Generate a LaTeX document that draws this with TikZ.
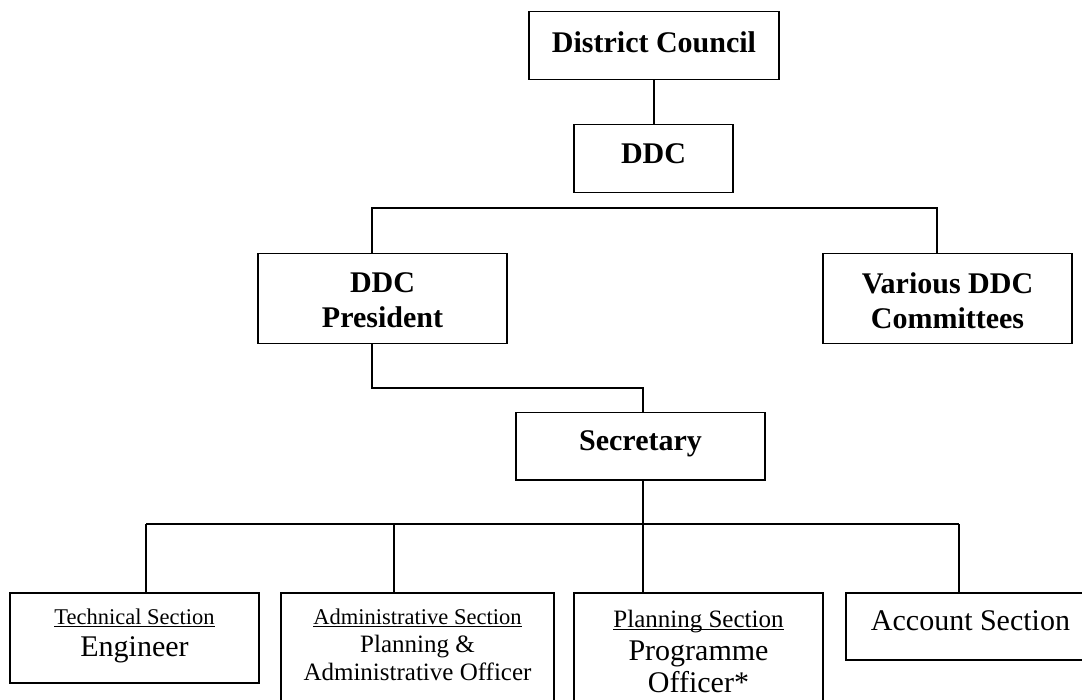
\documentclass[tikz,border=0pt]{standalone}
\usepackage{fontspec}
\setmainfont{Liberation Serif}
\usepackage{tikz}

% underlined section name (rule runs through descenders, like the original)
\newcommand{\secul}[1]{\leavevmode\setbox0\hbox{#1}\rlap{\rule[-2.2pt]{\wd0}{1.2pt}}\box0}
% box text: width, height, top gap, content
\newcommand{\orgtext}[4]{\parbox[t][#2pt][t]{#1pt}{\centering\vspace*{#3pt}#4}}

\begin{document}
\begin{tikzpicture}[x=1pt, y=-1pt,
    orgbox/.style={draw, line width=1.5pt, inner sep=0pt, anchor=north},
    link/.style={line width=1.5pt}]
    \useasboundingbox (0,0) rectangle (1082,700);
    \fill[white] (0,0) rectangle (1082,700);
    \clip (0,0) rectangle (1082,700);

    % Top of the chart
    \node[orgbox] (council) at (654,11) {\orgtext{250}{68}{19.5}{\fontsize{30}{35}\selectfont\bfseries District Council}};
    \node[orgbox] (ddc) at (653.5,124) {\orgtext{159}{68}{19.1}{\fontsize{30}{35}\selectfont\bfseries DDC}};
    \draw[link] (council.south) -- (council.south |- ddc.north);

    % President and committees
    \node[orgbox] (pres) at (382.5,253) {\orgtext{249}{90}{19.1}{\fontsize{30}{35}\selectfont\bfseries DDC\\ President}};
    \node[orgbox] (comm) at (947.5,253) {\orgtext{249}{90}{18.8}{\fontsize{30}{35}\selectfont\bfseries Various DDC\\ Committees}};
    \coordinate (busA) at (372,208);
    \coordinate (busB) at (937,208);
    \draw[link] (pres.north -| busA) -- (busA) -- (busB) -- (busB |- comm.north);

    % Secretary
    \node[orgbox] (secr) at (640.5,412) {\orgtext{249}{67}{17.8}{\fontsize{30}{35}\selectfont\bfseries Secretary}};
    \coordinate (pbend) at (372,388);
    \coordinate (sbend) at (643,388);
    \draw[link] (pres.south -| pbend) -- (pbend) -- (sbend) -- (secr.north -| sbend);

    % Sections
    \node[orgbox] (tech) at (134.5,592) {\orgtext{249}{90}{16.6}{\fontsize{30}{32}\selectfont
        {\fontsize{22.5}{27}\selectfont\secul{Technical Section}}\\ Engineer}};
    \node[orgbox] (admin) at (417.5,592) {\orgtext{273}{120}{16.6}{\fontsize{25}{28}\selectfont
        {\fontsize{22.5}{27}\selectfont\secul{Administrative Section}}\\ Planning \&\\ Administrative Officer}};
    \node[orgbox] (plan) at (698.5,592) {\orgtext{249}{120}{17.9}{\fontsize{30}{32.5}\selectfont
        {\fontsize{25}{30}\selectfont\secul{Planning Section}}\\ Programme\\ Officer*}};
    \node[orgbox] (acct) at (970.5,592) {\orgtext{249}{67}{17.5}{\fontsize{30}{35}\selectfont Account Section}};

    \coordinate (bus2) at (643,524);
    \draw[link] (secr.south -| bus2) -- (bus2);
    \draw[link] (146,524) coordinate (busL) -- (959,524) coordinate (busR);
    \foreach \n/\x in {tech/146, admin/394, plan/643, acct/959} {
        \coordinate (d\n) at (\x,524);
        \draw[link] (d\n) -- (d\n |- \n.north);
    }
\end{tikzpicture}
\end{document}
